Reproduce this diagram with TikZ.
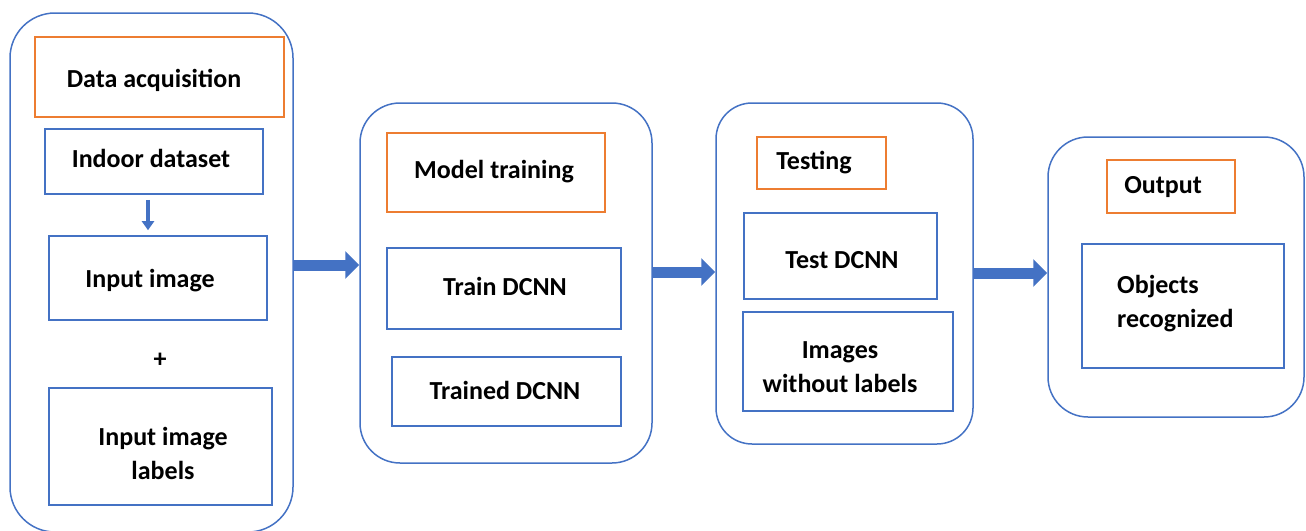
\documentclass[tikz,border=0pt]{standalone}
\usepackage{fontspec}
\setmainfont{Carlito}
\usetikzlibrary{arrows.meta}
\definecolor{obl}{HTML}{4472C4}
\definecolor{oor}{HTML}{ED7D31}
\tikzset{
  outer/.style={draw=obl, line width=1.5pt, inner sep=0pt},
  bluebox/.style={draw=obl, line width=1.6pt, inner sep=0pt},
  orangebox/.style={draw=oor, line width=1.4pt, inner sep=0pt},
  lbl/.style={font=\fontsize{26}{34}\selectfont\bfseries, inner sep=0pt, align=center},
  bigarrow/.style={draw=obl, line width=11pt, -{Triangle[width=27pt,length=14pt]}},
  smallarrow/.style={draw=obl, line width=4pt, -{Triangle[width=12pt,length=9pt]}, shorten <=5pt, shorten >=5pt}
}
\begin{document}
\begin{tikzpicture}[x=1pt,y=-1pt]
\useasboundingbox (0,0) rectangle (1306,530);
% outer rounded boxes
\node[outer, rounded corners=45pt, minimum width=283pt, minimum height=519pt] (b1) at (151.5,272.5) {};
\node[outer, rounded corners=40pt, minimum width=292pt, minimum height=360pt] (b2) at (506,283) {};
\node[outer, rounded corners=36pt, minimum width=257pt, minimum height=341pt] (b3) at (844.5,273.5) {};
\node[outer, rounded corners=40pt, minimum width=256pt, minimum height=280pt] (b4) at (1176,277) {};
% stage 1
\node[orangebox, minimum width=249pt, minimum height=80pt] (da) at (159.5,77) {};
\node[bluebox, minimum width=218pt, minimum height=65pt] (ind) at (154,161.5) {};
\node[bluebox, minimum width=218pt, minimum height=84pt] (inp) at (158,278) {};
\node[bluebox, minimum width=223pt, minimum height=117pt] (lab) at (160.5,446.5) {};
\node[lbl] (tda) at (154,80) {Data acquisition};
\node[lbl] (tind) at (151,158) {Indoor dataset};
\node[lbl] (tinp) at (150,281) {Input image};
\node[lbl] (tplus) at (160,360) {+};
\node[lbl] (tlab) at (163,453) {Input image\\labels};
% stage 2
\node[orangebox, minimum width=218pt, minimum height=79pt] (mt) at (496,172.5) {};
\node[bluebox, minimum width=234pt, minimum height=81pt] (tr) at (504,288.5) {};
\node[bluebox, minimum width=229pt, minimum height=69pt] (trd) at (506.5,391.5) {};
\node[lbl] (tmt) at (494,172) {Model training};
\node[lbl] (ttr) at (505,286) {Train DCNN};
\node[lbl] (ttrd) at (505,390) {Trained DCNN};
% stage 3
\node[orangebox, minimum width=129pt, minimum height=52pt] (te) at (821.5,163) {};
\node[bluebox, minimum width=193pt, minimum height=86pt] (tdc) at (840.5,256) {};
\node[bluebox, minimum width=210pt, minimum height=99pt] (img) at (848,361.5) {};
\node[lbl] (tte) at (814,163) {Testing};
\node[lbl] (ttdc) at (842,260) {Test DCNN};
\node[lbl] (timg) at (840,367) {Images\\without labels};
% stage 4
\node[orangebox, minimum width=128pt, minimum height=53pt] (out) at (1171,186.5) {};
\node[bluebox, minimum width=202pt, minimum height=124pt] (obj) at (1183,306) {};
\node[lbl] (tout) at (1163,187) {Output};
\node[lbl, align=left, anchor=west] (tobj) at (1117,304) {Objects\\recognized};
% arrows
\coordinate (a1) at (0,265);
\coordinate (a2) at (0,272);
\coordinate (a3) at (0,273);
\draw[bigarrow] (b1.east |- a1) -- (b2.west |- a1);
\draw[bigarrow] (b2.east |- a2) -- (b3.west |- a2);
\draw[bigarrow] (b3.east |- a3) -- (b4.west |- a3);
\coordinate (s1) at (148,0);
\draw[smallarrow] (ind.south -| s1) -- (inp.north -| s1);
\end{tikzpicture}
\end{document}
